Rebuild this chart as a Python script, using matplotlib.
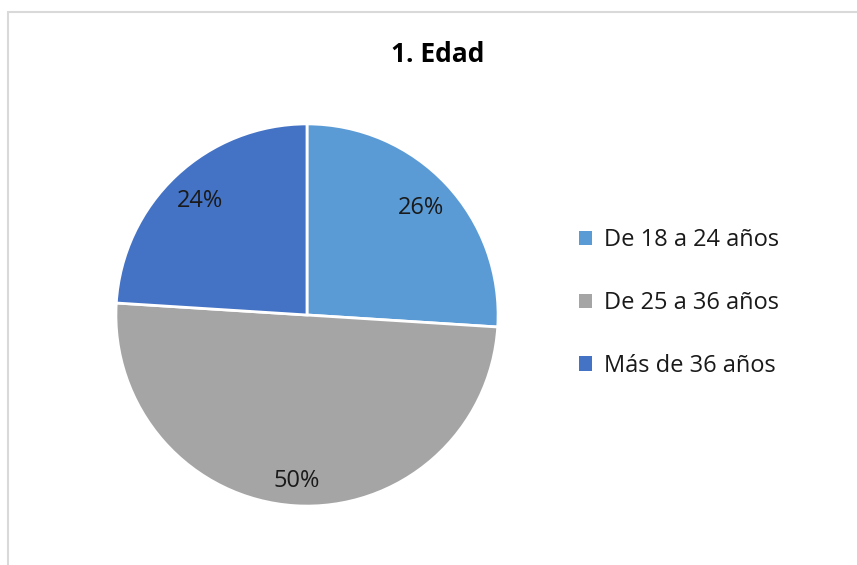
import matplotlib.pyplot as plt
from matplotlib.patches import Rectangle, Patch

# datos
categorias = ['De 18 a 24 años', 'De 25 a 36 años', 'Más de 36 años']
porcentajes = [26, 50, 24]
colores = ['#5B9BD5', '#A5A5A5', '#4472C4']

plt.rcParams['font.family'] = ['Open Sans', 'DejaVu Sans']

W, H = 857, 565
fig = plt.figure(figsize=(W / 100, H / 100), dpi=100)

# marco gris claro
fig.patches.append(Rectangle((8 / W, -0.1), 1.2, (H - 12) / H + 0.1,
                             transform=fig.transFigure, fill=False,
                             edgecolor='#D9D9D9', linewidth=1.5))

cx, cy, r = 307, 315, 193
ax = fig.add_axes([(cx - r) / W, (H - cy - r) / H, 2 * r / W, 2 * r / H])
wedges, texts, autotexts = ax.pie(
    porcentajes, colors=colores, startangle=90, counterclock=False,
    autopct='%d%%', pctdistance=0.82,
    wedgeprops=dict(edgecolor='white', linewidth=2),
    textprops=dict(fontsize=17, color='#1a1a1a'))
autotexts[1].set_position((autotexts[1].get_position()[0], -0.87))
ax.set_xlim(-1.01, 1.01)
ax.set_ylim(-1.01, 1.01)
ax.set_aspect('equal')

fig.text(438 / W, 1 - 55 / H, '1. Edad', ha='center', va='center',
         fontsize=19, fontweight='bold', color='#000000')

handles = [Patch(facecolor=c, edgecolor='none') for c in colores]
fig.legend(handles, categorias, loc='center left',
           bbox_to_anchor=(558 / W, 1 - 303 / H), frameon=False,
           fontsize=17, handlelength=0.55, handleheight=0.55,
           handletextpad=0.5, labelspacing=1.65, labelcolor='#1a1a1a')

fig.savefig('out.png', dpi=100)
